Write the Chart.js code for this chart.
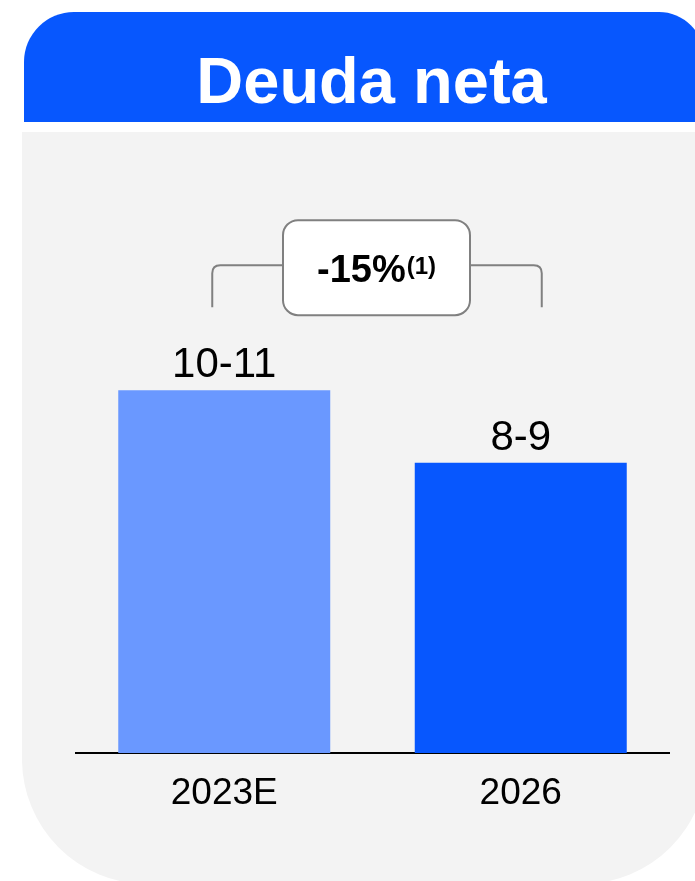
<!DOCTYPE html>
<html>
<head>
<meta charset="utf-8">
<script src="https://cdn.jsdelivr.net/npm/chart.js"></script>
<style>
  html, body { margin: 0; padding: 0; background: #fff; }
  body { width: 695px; height: 881px; position: relative; overflow: hidden; font-family: "Liberation Sans", Arial, sans-serif; }
  #head {
    position: absolute; left: 24px; top: 12px; width: 680px; height: 110px;
    background: #0757fe; border-radius: 50px 45px 0 0;
  }
  #head h1 {
    margin: 0; position: absolute; left: 0; width: 695px; top: 36px;
    text-align: center; color: #fff; font-size: 65px; font-weight: bold; line-height: 1;
  }
  #panel {
    position: absolute; left: 22px; top: 132px; width: 685px; height: 752px;
    background: #f3f3f3; border-radius: 0 0 125px 125px / 0 0 125px 125px;
  }
  #wrap { position: absolute; left: 0; top: 0; width: 695px; height: 881px; }
</style>
</head>
<body>
<div id="head"><h1>Deuda neta</h1></div>
<div id="panel"></div>
<div id="wrap"><canvas id="myChart"></canvas></div>
<script>
const years = ["2023E", "2026"];
const debt = [10.5, 8.4];
const rangeLabels = ["10-11", "8-9"];
const barColors = ["#6a98ff", "#0757fe"];
const change = "-15%";
const note = "(1)";

// value labels over the bars + the bracket with the change
const extras = {
  id: "extras",
  afterDatasetsDraw(chart) {
    const ctx = chart.ctx;
    const meta = chart.getDatasetMeta(0);
    ctx.save();
    ctx.fillStyle = "#000";
    ctx.textAlign = "center";
    ctx.textBaseline = "alphabetic";
    ctx.font = "42px 'Liberation Sans', Arial";
    meta.data.forEach((bar, i) => {
      ctx.fillText(rangeLabels[i], bar.x, bar.y - 13);
    });

    const x1 = meta.data[0].x - 12;
    const x2 = meta.data[1].x + 21;
    const top = Math.min(meta.data[0].y, meta.data[1].y);
    const yh = top - 125, yb = top - 83;
    const bx1 = 283, bx2 = 470, by1 = top - 170, by2 = top - 75;
    ctx.strokeStyle = "#808080";
    ctx.lineWidth = 2;
    ctx.beginPath();
    ctx.moveTo(x1, yb);
    ctx.lineTo(x1, yh + 8);
    ctx.quadraticCurveTo(x1, yh, x1 + 8, yh);
    ctx.lineTo(bx1, yh);
    ctx.moveTo(bx2, yh);
    ctx.lineTo(x2 - 8, yh);
    ctx.quadraticCurveTo(x2, yh, x2, yh + 8);
    ctx.lineTo(x2, yb);
    ctx.stroke();

    ctx.beginPath();
    ctx.roundRect(bx1, by1, bx2 - bx1, by2 - by1, 15);
    ctx.fillStyle = "#fff";
    ctx.fill();
    ctx.stroke();

    ctx.fillStyle = "#000";
    ctx.font = "bold 38px 'Liberation Sans', Arial";
    const w1 = ctx.measureText(change).width;
    ctx.font = "bold 24px 'Liberation Sans', Arial";
    const w2 = ctx.measureText(note).width;
    const sx = (bx1 + bx2) / 2 - (w1 + w2 + 1) / 2;
    ctx.textAlign = "left";
    ctx.font = "bold 38px 'Liberation Sans', Arial";
    ctx.fillText(change, sx, by1 + 62);
    ctx.font = "bold 24px 'Liberation Sans', Arial";
    ctx.fillText(note, sx + w1 + 1, by1 + 54);
    ctx.restore();
  }
};

new Chart(document.querySelector("#myChart"), {
  type: "bar",
  data: {
    labels: years,
    datasets: [{
      data: debt,
      backgroundColor: barColors,
      barPercentage: 0.715,
      categoryPercentage: 1
    }]
  },
  options: {
    responsive: true,
    maintainAspectRatio: false,
    animation: false,
    events: [],
    layout: { padding: { left: 76, right: 26, top: 131, bottom: 0 } },
    plugins: { legend: { display: false }, tooltip: { enabled: false } },
    scales: {
      x: {
        grid: { display: false, drawTicks: false },
        border: { display: true, color: "#000", width: 2 },
        ticks: { color: "#000", padding: 19, font: { family: "'Liberation Sans', Arial", size: 37 } },
        afterFit: (s) => { s.height = 881 - 753; }
      },
      y: { display: false, min: 0, max: 18 }
    }
  },
  plugins: [extras]
});
</script>
</body>
</html>
